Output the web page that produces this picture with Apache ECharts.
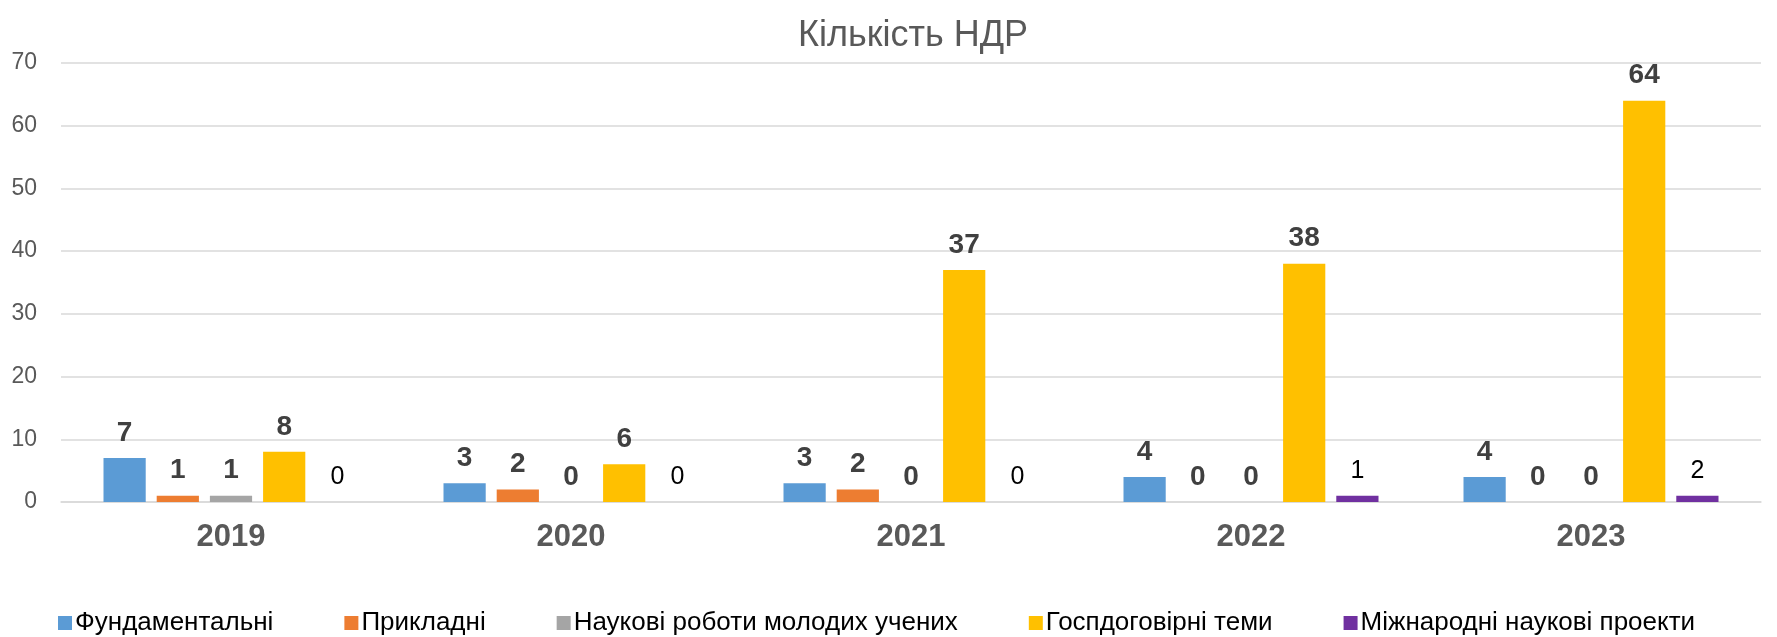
<!DOCTYPE html>
<html lang="uk">
<head>
    <meta charset="UTF-8">
    <title>Кількість НДР</title>
    <script src="https://cdn.jsdelivr.net/npm/echarts@6/dist/echarts.min.js"></script>
    <style>
        html, body { margin: 0; padding: 0; background: #fff; }
        #chart { width: 1777px; height: 637px; }
    </style>
</head>
<body>
<div id="chart"></div>
<script type="text/javascript">
    // дані
    var years = ['2019', '2020', '2021', '2022', '2023'];
    var seriesNames = ['Фундаментальні', 'Прикладні', 'Наукові роботи молодих учених', 'Госпдоговірні теми', 'Міжнародні наукові проекти'];
    var fundamental = [7, 3, 3, 4, 4];
    var applied = [1, 2, 2, 0, 0];
    var young = [1, 0, 0, 0, 0];
    var contracts = [8, 6, 37, 38, 64];
    var international = [0, 0, 0, 1, 1];
    var internationalLabels = ['0', '0', '0', '1', '2'];
    var yTicks = [0, 10, 20, 30, 40, 50, 60, 70];

    var colors = ['#5B9BD5', '#ED7D31', '#A5A5A5', '#FFC000', '#7030A0'];
    var font = 'Liberation Sans, Arial, sans-serif';

    var boldLabel = {
        show: true,
        position: 'top',
        distance: 11,
        fontFamily: font,
        fontSize: 28,
        fontWeight: 'bold',
        color: '#404040'
    };

    function bar(name, data, idx, label) {
        return {
            name: name,
            type: 'bar',
            data: data,
            barGap: '26%',
            barCategoryGap: '25%',
            itemStyle: { color: colors[idx] },
            label: label || boldLabel
        };
    }

    var chart = echarts.init(document.getElementById('chart'));
    var option = {
        animation: false,
        title: {
            text: 'Кількість НДР',
            left: 793,
            top: 13,
            textStyle: {
                fontFamily: font,
                fontSize: 36,
                fontWeight: 'normal',
                color: '#595959'
            }
        },
        legend: {
            data: seriesNames,
            bottom: 0,
            left: 53,
            padding: [5, 5, 1, 5],
            itemWidth: 14,
            itemHeight: 14,
            itemGap: 71,
            icon: 'rect',
            textStyle: {
                fontFamily: font,
                fontSize: 26,
                color: '#000',
                padding: [0, 0, 0, -2]
            }
        },
        grid: {
            left: 61,
            right: 16,
            top: 63,
            bottom: 135
        },
        xAxis: {
            type: 'category',
            data: years,
            axisLine: { show: true, lineStyle: { color: '#D9D9D9', width: 1.5 } },
            axisTick: { show: false },
            axisLabel: {
                margin: 20,
                fontFamily: font,
                fontSize: 31,
                fontWeight: 'bold',
                color: '#595959'
            }
        },
        yAxis: {
            type: 'value',
            min: yTicks[0],
            max: yTicks[yTicks.length - 1],
            interval: 10,
            axisLine: { show: false },
            axisTick: { show: false },
            splitLine: { lineStyle: { color: '#D9D9D9', width: 1.5 } },
            axisLabel: {
                margin: 24,
                fontFamily: font,
                fontSize: 23,
                color: '#595959'
            }
        },
        series: [
            bar(seriesNames[0], fundamental, 0),
            bar(seriesNames[1], applied, 1),
            bar(seriesNames[2], young, 2),
            bar(seriesNames[3], contracts, 3),
            bar(seriesNames[4], international, 4, {
                show: true,
                position: 'top',
                distance: 12,
                fontFamily: font,
                fontSize: 25,
                color: '#000',
                formatter: function (p) { return internationalLabels[p.dataIndex]; }
            })
        ]
    };
    chart.setOption(option);
</script>
</body>
</html>
